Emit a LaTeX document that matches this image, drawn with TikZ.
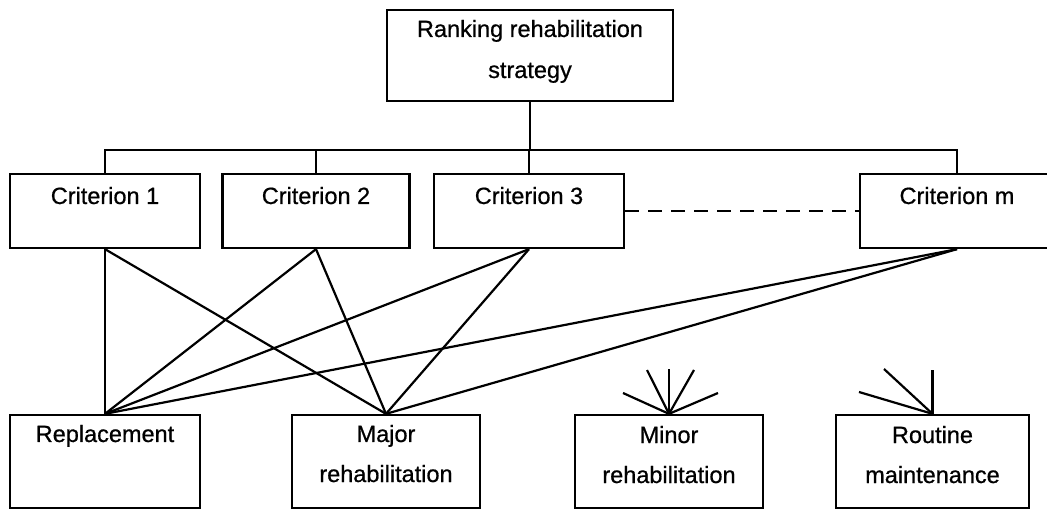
\documentclass[tikz,border=0pt]{standalone}
\usepackage{fontspec}
\setmainfont[FakeBold=0.7]{Liberation Sans}
\begin{document}
\begin{tikzpicture}[x=1pt,y=-1pt,
  box/.style={draw, line width=2.3pt, inner sep=0pt, fill=none},
  lbl/.style={font=\fontsize{23.5}{28}\selectfont, inner sep=0pt, anchor=base},
  link/.style={line width=2.2pt},
  dashlink/.style={line width=2.2pt, dash pattern=on 14pt off 9pt}]
\useasboundingbox (0,0) rectangle (1047,510);

% goal
\node[box, minimum width=286pt, minimum height=91pt] (goal) at (530,55.5) {};
\node[lbl] (goal1) at (530,37) {Ranking rehabilitation};
\node[lbl] (goal2) at (530,78) {strategy};

% criteria
\node[box, minimum width=190pt, minimum height=74pt] (c1) at (105,211) {};
\node[box, minimum width=187pt, minimum height=74pt] (c2) at (316,211) {};
\node[box, minimum width=190pt, minimum height=74pt] (c3) at (529,211) {};
\node[box, minimum width=194pt, minimum height=74pt] (cm) at (957,211) {};
\node[lbl] (c1t) at (105,204) {Criterion 1};
\node[lbl] (c2t) at (316,204) {Criterion 2};
\node[lbl] (c3t) at (529,204) {Criterion 3};
\node[lbl] (cmt) at (957,204) {Criterion m};

% alternatives
\node[box, minimum width=190pt, minimum height=93pt] (rep) at (105,461.5) {};
\node[box, minimum width=188pt, minimum height=93pt] (maj) at (386,461.5) {};
\node[box, minimum width=188pt, minimum height=93pt] (mnr) at (669,461.5) {};
\node[box, minimum width=193pt, minimum height=93pt] (rout) at (932.5,461.5) {};
\node[lbl] (rept) at (105,442) {Replacement};
\node[lbl] (majt1) at (386,442) {Major};
\node[lbl] (majt2) at (386,482) {rehabilitation};
\node[lbl] (mnrt1) at (669,443) {Minor};
\node[lbl] (mnrt2) at (669,483) {rehabilitation};
\node[lbl] (routt1) at (932.5,443) {Routine};
\node[lbl] (routt2) at (932.5,483) {maintenance};

% hierarchy bus
\coordinate (bus) at (528,150);
\draw[link] (goal.south) -- (goal.south |- bus);
\draw[link] (c1.north) |- (bus) -| (cm.north);
\draw[link] (c2.north) -- (c2.north |- bus);
\draw[link] (c3.north) -- (c3.north |- bus);
\draw[dashlink] (c3.east) -- (cm.west);

% criteria to alternatives
\foreach \c in {c1,c2,c3,cm}{
  \draw[link] (\c.south) -- (rep.north);
  \draw[link] (\c.south) -- (maj.north);
}

% stubs above the remaining alternatives
\coordinate (m1) at (623,393);
\coordinate (m2) at (647,370);
\coordinate (m3) at (669,369);
\coordinate (m4) at (694,370);
\coordinate (m5) at (718,393);
\foreach \p in {m1,m2,m3,m4,m5}{\draw[link] (mnr.north) -- (\p);}
\coordinate (r1) at (932.5,370);
\coordinate (r2) at (884,369);
\coordinate (r3) at (859,392);
\foreach \p in {r1,r2,r3}{\draw[link] (rout.north) -- (\p);}
\end{tikzpicture}
\end{document}
